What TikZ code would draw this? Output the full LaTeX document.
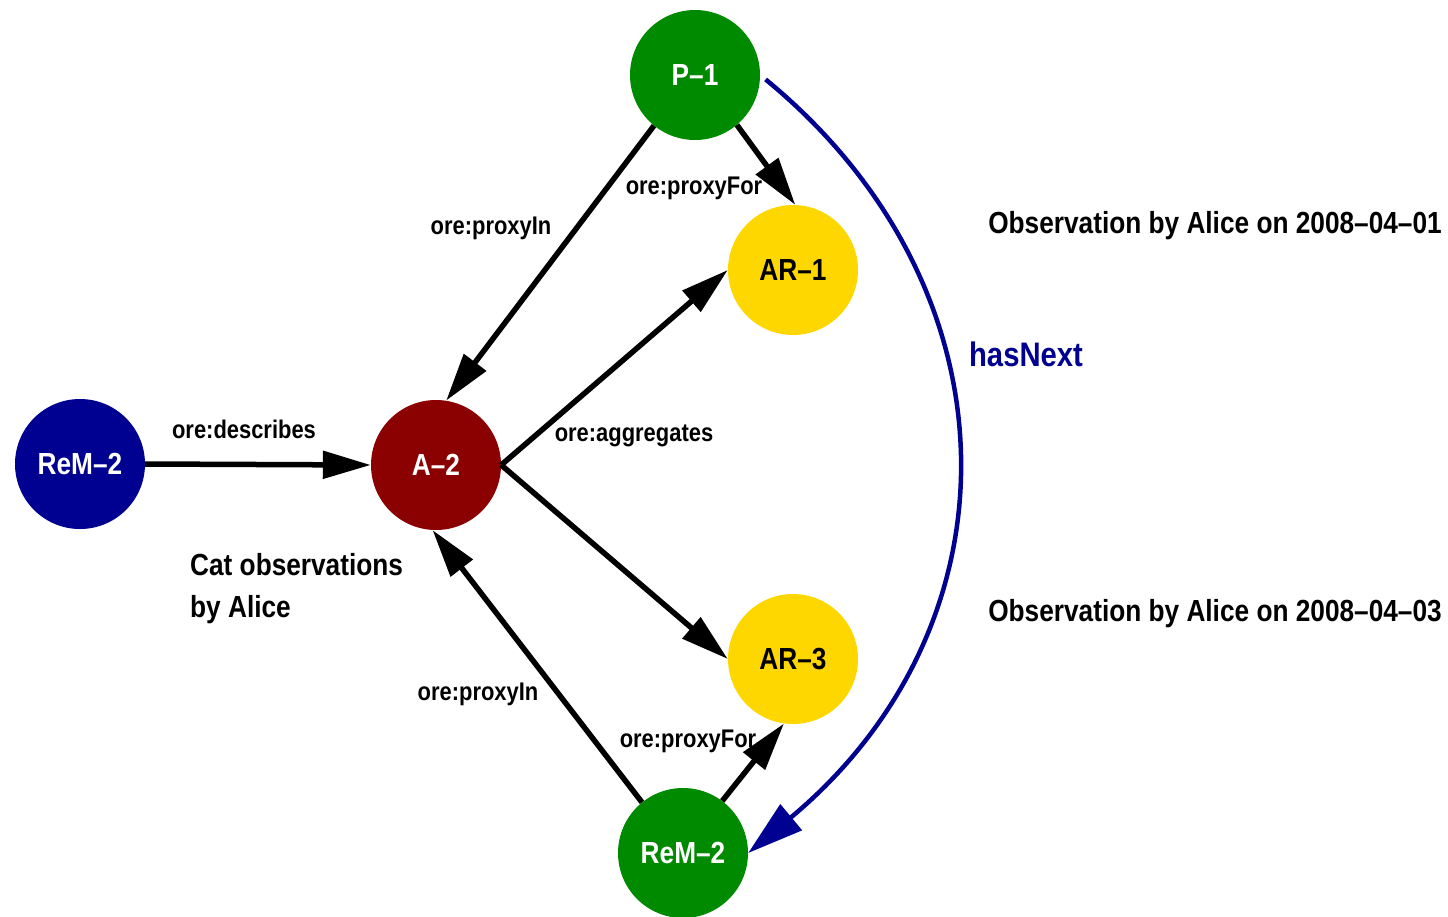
\documentclass[tikz,border=0pt]{standalone}
\usepackage{fontspec}
\setmainfont{Liberation Sans}[FakeStretch=0.86]
\usetikzlibrary{arrows.meta}
\definecolor{pgreen}{RGB}{0,138,0}
\definecolor{pblue}{RGB}{0,0,145}
\definecolor{pred}{RGB}{139,0,0}
\definecolor{pgold}{RGB}{255,215,0}
\begin{document}
\begin{tikzpicture}[x=1pt,y=-1pt,
  res/.style={circle,draw=none,minimum size=130pt,inner sep=0pt,
    font=\fontsize{30.5}{36}\selectfont\bfseries},
  light/.style={res,text=white},
  rel/.style={line width=5.5pt,-{Triangle[length=48pt,width=27pt]}},
  lbl/.style={font=\fontsize{25.5}{30}\selectfont\bfseries,inner sep=0pt},
  note/.style={font=\fontsize{30.5}{42}\selectfont\bfseries,inner sep=0pt,align=left}]
\useasboundingbox (0,0) rectangle (1448,916);

% resources
\node[light,fill=pgreen] (p1)   at (695,75)  {P–1};
\node[res,fill=pgold]    (ar1)  at (793,270) {AR–1};
\node[light,fill=pred]   (a2)   at (436,465) {A–2};
\node[light,fill=pblue]  (remA) at (80,464)  {ReM–2};
\node[res,fill=pgold]    (ar3)  at (793,659) {AR–3};
\node[light,fill=pgreen] (remB) at (683,853) {ReM–2};

% relations
\draw[rel] (p1.231) -- (a2.81);
\draw[rel] (p1.310) -- (ar1.88);
\draw[rel] (a2.east) -- (ar1.west);
\draw[rel] (a2.east) -- (ar3.west);
\draw[rel] (remA.east) -- (a2.west);
\draw[rel] (remB.129) -- (a2.267);
\draw[rel] (remB.53) -- (ar3.262);

% successor link
\draw[pblue,line width=4.5pt,shorten <=7pt,-{Triangle[length=56pt,width=33pt]}]
  (p1.east) .. controls (1022,290) and (1022,625) .. (remB.east);

% edge labels
\node[lbl] (l1) at (491,228) {ore:proxyIn};
\node[lbl] (l2) at (694,188) {ore:proxyFor};
\node[lbl] (l3) at (634,436) {ore:aggregates};
\node[lbl] (l4) at (244,429) {ore:describes};
\node[lbl] (l5) at (478,694) {ore:proxyIn};
\node[lbl] (l6) at (688,741) {ore:proxyFor};
\node[font=\fontsize{34}{40}\selectfont\bfseries,text=pblue,inner sep=0pt] (hn) at (1026,354) {hasNext};

% descriptions
\node[note] (o1) at (1215,226) {Observation by Alice on 2008–04–01};
\node[note] (o3) at (1215,614) {Observation by Alice on 2008–04–03};
\node[note,anchor=north west] (cat) at (190,553) {Cat observations\\by Alice};
\end{tikzpicture}
\end{document}
